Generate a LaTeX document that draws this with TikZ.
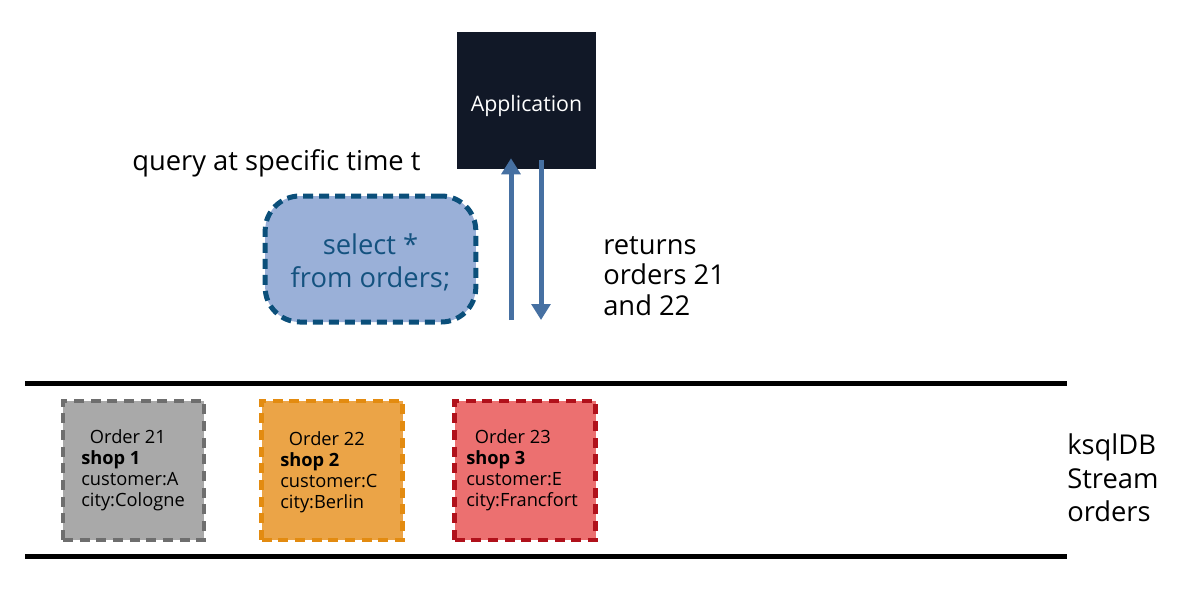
\documentclass[tikz,border=0pt]{standalone}
\usepackage{fontspec}
\setmainfont{Open Sans}
\usetikzlibrary{arrows.meta}
\definecolor{appbg}{HTML}{111827}
\definecolor{qfill}{HTML}{9AB0D8}
\definecolor{qline}{HTML}{0B4F7A}
\definecolor{qtext}{HTML}{14527F}
\definecolor{arr}{HTML}{4670A2}
\definecolor{gfill}{HTML}{A9A9A9}
\definecolor{gline}{HTML}{6E6E6E}
\definecolor{ofill}{HTML}{EBA447}
\definecolor{oline}{HTML}{E38B10}
\definecolor{rfill}{HTML}{EC7070}
\definecolor{rline}{HTML}{B0111B}
\tikzset{
  big/.style={font=\fontsize{20.5}{25}\selectfont, inner sep=0pt},
  orderbox/.style={draw, line width=3.5pt, dash pattern=on 7.5pt off 5pt, minimum width=105.75pt, minimum height=104.25pt, inner sep=0pt},
  ordertext/.style={font=\fontsize{13.7}{15.9}\selectfont, align=left, anchor=north west, inner sep=0pt},
  flowarrow/.style={draw=arr, line width=3.75pt, -{Triangle[width=14pt,length=12pt]}},
  rail/.style={line width=3.75pt},
}
\begin{document}
\begin{tikzpicture}[x=0.75pt,y=-0.75pt]
\useasboundingbox (0,0) rectangle (1182,596);
% application
\node[fill=appbg, minimum width=104.25pt, minimum height=102.75pt] (app) at (526.5,100.5) {};
\node[text=white, font=\fontsize{16}{19}\selectfont, inner sep=0pt] (applabel) at ([yshift=-3.8pt]app.center) {Application};
% query label
\node[big, anchor=west] (qlabel) at (132,163) {query at specific time t};
% query box
\node[draw=qline, fill=qfill, line width=3.75pt, dash pattern=on 7.5pt off 4.5pt, rounded corners=26pt, minimum width=158pt, minimum height=94.5pt] (query) at (370.5,259) {};
\node[text=qtext, big, align=center] (qtxt) at ([yshift=-2.6pt]query.center) {select *\\from orders;};
% arrows
\coordinate (upstart) at (511,320);
\coordinate (downend) at (541,320);
\draw[flowarrow] (upstart) -- (upstart |- app.south) -- ++(0,-11);
\draw[flowarrow] (541,160) -- (downend);
% returns
\node[big, anchor=west, align=left, font=\fontsize{20.5}{23}\selectfont] (ret) at (603,276) {returns\\orders 21\\and 22};
% rails
\coordinate (r1a) at (25,383);
\coordinate (r1b) at (1067,383);
\coordinate (r2a) at (25,556);
\coordinate (r2b) at (1067,556);
\draw[rail] (r1a) -- (r1b);
\draw[rail] (r2a) -- (r2b);
% order boxes
\node[orderbox, draw=gline, fill=gfill] (o1) at (133.5,470.5) {};
\node[orderbox, draw=oline, fill=ofill] (o2) at (332,470.5) {};
\node[orderbox, draw=rline, fill=rfill] (o3) at (525,470.5) {};
\node[ordertext] (t1) at (81,429) {\hspace{6.5pt}Order 21\\\textbf{shop 1}\\customer:A\\city:Cologne};
\node[ordertext] (t2) at (280,431) {\hspace{6.5pt}Order 22\\\textbf{shop 2}\\customer:C\\city:Berlin};
\node[ordertext] (t3) at (466,429) {\hspace{6.5pt}Order 23\\\textbf{shop 3}\\customer:E\\city:Francfort};
% stream label
\node[big, anchor=west, align=left] (ks) at (1067,478) {ksqlDB\\[0pt]Stream\\[0pt]orders};
\end{tikzpicture}
\end{document}
